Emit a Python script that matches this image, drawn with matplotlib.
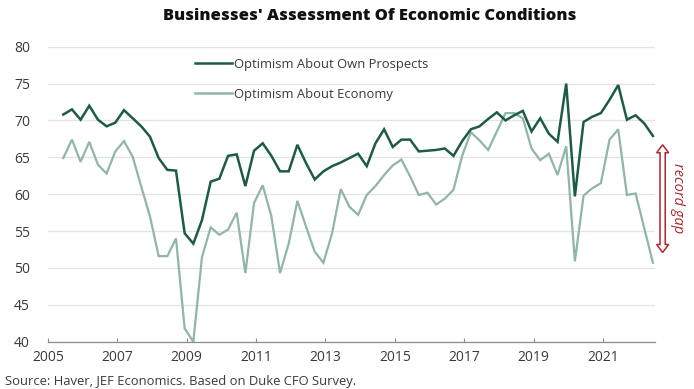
import matplotlib
matplotlib.use("Agg")
import matplotlib.pyplot as plt
import numpy as np
import pandas as pd
from matplotlib.patches import Polygon

# ---- data (quarterly, Duke CFO survey) ----
quarters = pd.period_range("2005Q2", "2022Q2", freq="Q")

own_prospects = [
    70.8, 71.5, 70.1, 72.0, 70.1, 69.2, 69.7, 71.4, 70.3, 69.2,
    67.8, 64.9, 63.3, 63.2, 54.7, 53.3, 56.5, 61.7, 62.1, 65.2,
    65.4, 61.1, 65.9, 66.9, 65.2, 63.1, 63.1, 66.7, 64.2, 62.0,
    63.1, 63.8, 64.3, 64.9, 65.5, 63.8, 66.9, 68.8, 66.4, 67.4,
    67.4, 65.8, 65.9, 66.0, 66.2, 65.2, 67.2, 68.8, 69.2, 70.2,
    71.1, 70.0, 70.7, 71.3, 68.5, 70.3, 68.2, 67.1, 75.0, 59.7,
    69.8, 70.5, 71.0, 72.8, 74.8, 70.1, 70.7, 69.6, 67.9,
]

economy = [
    64.9, 67.4, 64.4, 67.1, 64.0, 62.8, 65.8, 67.2, 65.1, 61.0,
    57.0, 51.6, 51.6, 54.0, 41.8, 40.0, 51.5, 55.5, 54.5, 55.2,
    57.5, 49.3, 58.8, 61.2, 57.0, 49.3, 53.3, 59.1, 55.6, 52.2,
    50.7, 54.7, 60.7, 58.3, 57.2, 59.9, 61.1, 62.6, 63.9, 64.7,
    62.4, 59.9, 60.2, 58.6, 59.4, 60.6, 65.2, 68.4, 67.3, 66.0,
    68.5, 71.0, 71.0, 70.3, 66.2, 64.6, 65.5, 62.6, 66.5, 50.9,
    59.8, 60.8, 61.5, 67.4, 68.8, 59.9, 60.1, 55.4, 50.7,
]

series_labels = ["Optimism About Own Prospects", "Optimism About Economy"]
year_ticks = [2005, 2007, 2009, 2011, 2013, 2015, 2017, 2019, 2021]
value_ticks = [40, 45, 50, 55, 60, 65, 70, 75, 80]
title = "Businesses' Assessment Of Economic Conditions"
source = "Source: Haver, JEF Economics. Based on Duke CFO Survey."
annotation = "record gap"
gap_top, gap_bottom = 66.7, 52.1

# ---- style ----
DARK = "#1d5c43"
LIGHT = "#8fb6a6"
RED = "#b0282e"
TXT = "#3a3a3a"
plt.rcParams["font.family"] = ["Open Sans", "DejaVu Sans"]

x = np.array([p.year + (p.quarter - 1) / 4 + 0.19 for p in quarters])

fig = plt.figure(figsize=(6.94, 3.89), dpi=100)
ax = fig.add_axes([48 / 694, 1 - 341.7 / 389, (655 - 48) / 694, (341.7 - 46.7) / 389])

ax.plot(x, own_prospects, color=DARK, lw=1.8, label=series_labels[0], zorder=3,
        solid_joinstyle="miter")
ax.plot(x, economy, color=LIGHT, lw=1.6, label=series_labels[1], zorder=2,
        solid_joinstyle="miter")

ax.set_xlim(2005, 2022.5)
ax.set_ylim(40, 80)
ax.set_yticks(value_ticks)
ax.set_xticks(year_ticks)
ax.tick_params(axis="y", length=0, pad=13, labelsize=10, labelcolor=TXT)
ax.tick_params(axis="x", direction="in", length=3, width=0.8, color="#888888",
               pad=6, labelsize=10, labelcolor=TXT)
ax.grid(axis="y", color="#e3e3e3", lw=0.9, zorder=0)
ax.set_axisbelow(True)
for s in ["left", "right", "top"]:
    ax.spines[s].set_visible(False)
ax.spines["bottom"].set_color("#8a8a8a")
ax.spines["bottom"].set_linewidth(0.9)

leg = ax.legend(loc="upper left", bbox_to_anchor=(0.222, 1.003), frameon=False,
                fontsize=9.4, handlelength=2.9, handletextpad=0.15,
                labelspacing=1.3, labelcolor=TXT)
for h in leg.get_lines():
    h.set_linewidth(1.8)

# record gap arrow (hollow double arrow), shape in pixels around data anchor
ax_x = 2022.72
fig.canvas.draw()
to_px = ax.transData
(px, py_top) = to_px.transform((ax_x, gap_top))
(_, py_bot) = to_px.transform((ax_x, gap_bottom))
hw, hl, sw = 6.0, 8.0, 2.6
pts_px = [
    (px, py_top), (px + hw, py_top - hl), (px + sw, py_top - hl),
    (px + sw, py_bot + hl), (px + hw, py_bot + hl), (px, py_bot),
    (px - hw, py_bot + hl), (px - sw, py_bot + hl), (px - sw, py_top - hl),
    (px - hw, py_top - hl),
]
pts = to_px.inverted().transform(pts_px)
arrow = Polygon(pts, closed=True, facecolor="white", edgecolor=RED, lw=1.1,
                clip_on=False, zorder=5, joinstyle="miter")
ax.add_patch(arrow)
ax.text(2023.15, (gap_top + gap_bottom) / 2, annotation, rotation=270,
        ha="center", va="center", fontsize=10.5, style="italic", color=RED,
        clip_on=False)

fig.text(370 / 694, 1 - 16 / 389, title, ha="center", va="center",
         fontsize=11.85, fontweight=800, color="#111111")
fig.text(5 / 694, 1 - 381 / 389, source, ha="left", va="center",
         fontsize=9.4, color=TXT)

fig.savefig("out.png", dpi=100)
